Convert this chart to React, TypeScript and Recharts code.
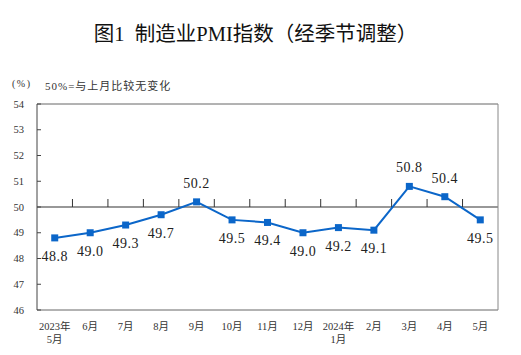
import { LineChart, Line, XAxis, YAxis, ReferenceLine, LabelList } from 'recharts';

const months = ['2023年\n5月', '6月', '7月', '8月', '9月', '10月', '11月', '12月', '2024年\n1月', '2月', '3月', '4月', '5月'];
const pmi = [48.8, 49.0, 49.3, 49.7, 50.2, 49.5, 49.4, 49.0, 49.2, 49.1, 50.8, 50.4, 49.5];
const yTicks = [46, 47, 48, 49, 50, 51, 52, 53, 54];

const chartData = months.map((m, i) => ({ month: m, value: pmi[i] }));

const SERIF = '"Liberation Serif", "Times New Roman", "Noto Sans CJK SC", serif';
const BLUE = '#0b66c9';

const W = 521;
const H = 355;
const M = { top: 104, right: 23, left: 37, bottom: 45 };
const PLOT_W = W - M.left - M.right;
const PLOT_H = H - M.top - M.bottom;
const STEP = PLOT_W / months.length;

const XTick = ({ x, y, payload, index }: any) => {
  const lines = String(payload.value).split('\n');
  const last = index === months.length - 1;
  return (
    <g>
      {lines.map((l, i) => (
        <text key={i} x={x} y={y + 20 + i * 13} textAnchor="middle" fontSize={10.5} fontFamily={SERIF} fill="#333">
          {l}
        </text>
      ))}
      {last && <line x1={x + STEP / 2} y1={y - PLOT_H} x2={x + STEP / 2} y2={y} stroke="#888" />}
    </g>
  );
};

const YTick = ({ x, y, payload }: any) => (
  <g>
    <line x1={x} y1={y} x2={x + 4} y2={y} stroke="#444" />
    <text x={x - 13} y={y + 3.5} textAnchor="end" fontSize={10.5} fontFamily={SERIF} fill="#333">
      {payload.value}
    </text>
  </g>
);

// 50 line with small upward ticks at category boundaries
const FiftyLine = (props: any) => {
  const { x1, y1, x2 } = props;
  const n = months.length;
  const step = (x2 - x1) / n;
  const ticks = [];
  for (let i = 1; i < n; i++) {
    const tx = x1 + i * step;
    ticks.push(<line key={i} x1={tx} y1={y1} x2={tx} y2={y1 - 8} stroke="#333" />);
  }
  return (
    <g>
      <line x1={x1} y1={y1} x2={x2} y2={y1} stroke="#333" strokeWidth={1.2} />
      {ticks}
    </g>
  );
};

const TopLine = (props: any) => {
  const { x1, y1, x2 } = props;
  return <line x1={x1} y1={y1} x2={x2} y2={y1} stroke="#666" />;
};

const SquareDot = ({ cx, cy }: any) => {
  if (cx == null || cy == null) return null;
  return <rect x={cx - 3.5} y={cy - 3.5} width={7} height={7} fill={BLUE} />;
};

const ValueLabel = ({ x, y, value }: any) => {
  const above = value > 50;
  return (
    <text x={x} y={above ? y - 14 : y + 23} textAnchor="middle" fontSize={14} fontFamily={SERIF} fill="#222" letterSpacing={0.5}>
      {Number(value).toFixed(1)}
    </text>
  );
};

export default function App() {
  return (
    <div style={{ position: 'absolute', left: 0, top: 0, width: W, height: H, background: '#fff' }}>
      <div
        style={{
          position: 'absolute',
          left: 0,
          width: 511,
          top: 17,
          textAlign: 'center',
          fontSize: 20.5,
          fontFamily: SERIF,
          color: '#111',
          whiteSpace: 'nowrap',
        }}
      >
        图1&nbsp;&nbsp;制造业PMI指数（经季节调整）
      </div>
      <div style={{ position: 'absolute', left: 12, top: 78, fontSize: 10, fontFamily: SERIF, color: '#333', letterSpacing: 1.5 }}>
        (%)
      </div>
      <div style={{ position: 'absolute', left: 45, top: 77, fontSize: 11, fontFamily: SERIF, color: '#333', letterSpacing: 1, whiteSpace: 'nowrap' }}>
        50%=与上月比较无变化
      </div>
      <LineChart width={W} height={H} data={chartData} margin={{ top: M.top, right: M.right, bottom: 0, left: 0 }}>
        <XAxis
          dataKey="month"
          interval={0}
          padding={{ left: STEP / 2, right: STEP / 2 }}
          tickLine={false}
          tickSize={0}
          tickMargin={0}
          height={M.bottom}
          axisLine={{ stroke: '#666' }}
          tick={<XTick />}
        />
        <YAxis
          domain={[46, 54]}
          ticks={yTicks}
          width={M.left}
          tickLine={false}
          tickSize={0}
          tickMargin={0}
          axisLine={{ stroke: '#444' }}
          tick={<YTick />}
        />
        <ReferenceLine y={54} shape={TopLine} />
        <ReferenceLine y={50} shape={FiftyLine} />
        <Line
          dataKey="value"
          stroke={BLUE}
          strokeWidth={2}
          dot={<SquareDot />}
          activeDot={false}
          isAnimationActive={false}
        >
          <LabelList dataKey="value" content={<ValueLabel />} />
        </Line>
      </LineChart>
    </div>
  );
}
